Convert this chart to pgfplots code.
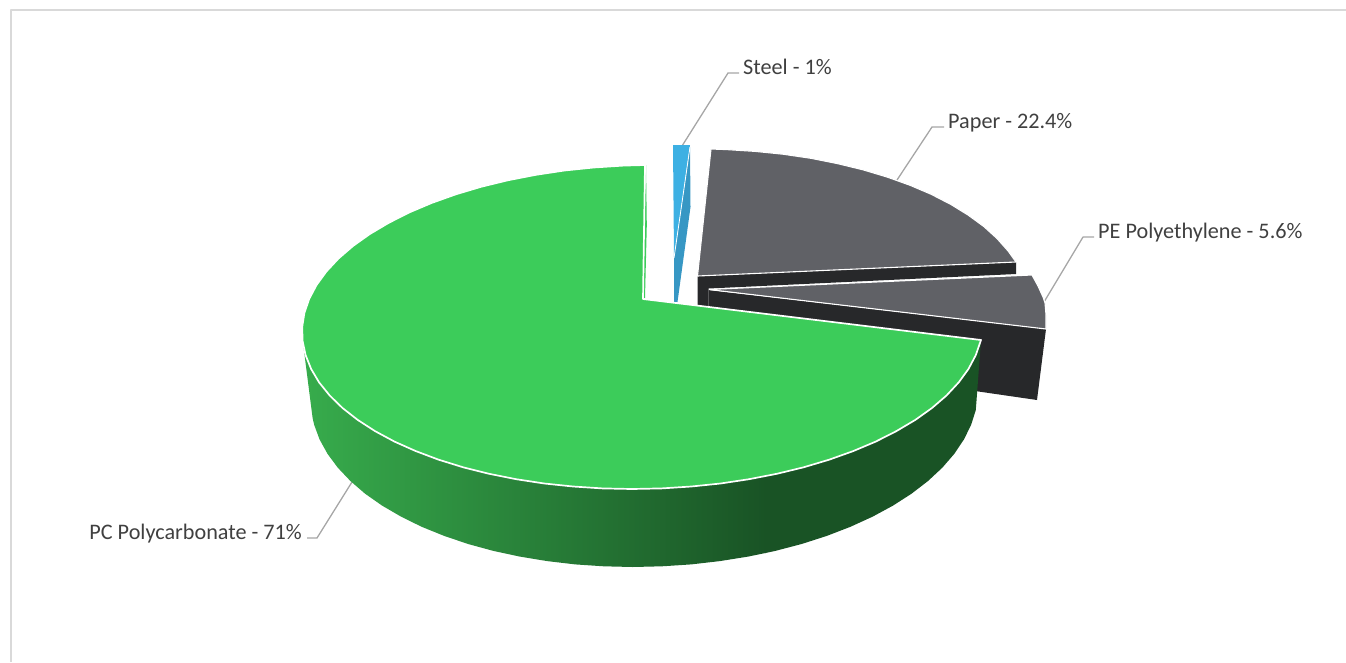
\documentclass[border=0pt]{standalone}
\usepackage{pgfplots}
\pgfplotsset{compat=1.18}
\usepackage{fontspec}
\setmainfont{Carlito}
\definecolor{gface}{HTML}{3CCC5A}
\definecolor{gl}{HTML}{37AC4C}
\definecolor{gd}{HTML}{195325}
\definecolor{gray1}{HTML}{606166}
\definecolor{dark1}{HTML}{27282A}
\definecolor{blue1}{HTML}{3DB0E3}
\definecolor{blue2}{HTML}{3797C4}
\definecolor{lead}{HTML}{A6A6A6}
\definecolor{txt}{HTML}{404040}
\definecolor{frame}{HTML}{D9D9D9}
\begin{document}
\begin{tikzpicture}
\begin{axis}[
  width=1346pt,height=662pt,scale only axis,
  xmin=0,xmax=1346,ymin=0,ymax=662,y dir=reverse,
  hide axis,no markers,
  every axis plot/.append style={line join=round},
]
% frame
\addplot[frame,line width=2pt] coordinates {(10.5,662)(10.5,10)(1346,10)};
% leader lines
\addplot[lead,line width=1.3pt] coordinates {(682,146)(728,73)(739,73)};
\addplot[lead,line width=1.3pt] coordinates {(897,180)(932,127)(944,127)};
\addplot[lead,line width=1.3pt] coordinates {(1044,302)(1083,237)(1094,237)};
\addplot[lead,line width=1.3pt] coordinates {(352,482)(317,538)(307,538)};
% steel
\addplot[fill=blue2,draw=none] coordinates {(690,147)(690.5,207)(677.5,302)(674,302)(674,258)} --cycle;
\addplot[fill=blue1,draw=none] coordinates {(673,145)(690,145)(674,258)} --cycle;
\addplot[white,line width=0.8pt] coordinates {(690,147)(674,258)};
% PE side and face
\addplot[fill=dark1,draw=none] coordinates {(708.5,290)(1046,329)(1037,400)(975,391)(975,345)(708.5,320)} --cycle;
\addplot[fill=gray1,draw=white,line width=1.1pt] coordinates {(708.5,289.5)(1032,275)(1038,286)(1043,297)(1045,303)(1046,315)(1046,329)} --cycle;
% paper side and face
\addplot[fill=dark1,draw=none] coordinates {(697.5,276)(1016,262)(1016,274)(708.5,288.5)(708.5,310)(697.5,310)} --cycle;
\addplot[fill=gray1,draw=white,line width=1.1pt] coordinates {(711,149)(726.8,149.6)(755.3,151.4)(783,154.2)(810.9,158.3)(837,163.5)(863,169.8)(887,177)(910.1,185.3)(931,194.2)(950.8,204.4)(968,215)(983.8,226.5)(997,238.5)(1008.1,251)(1016,262)(697.5,276)} --cycle;
% green side
\addplot[shade,left color=gl,right color=gd,draw=none] coordinates {(303.5,347)(766,347)(766,552.9)(748,556.6)(719.8,561.1)(691.1,564.4)(662,566.3)(632.7,567)(603.9,566.3)(575.3,564.4)(547.2,561.1)(519.9,556.6)(493.4,550.9)(468.1,544)(444.2,535.9)(421.7,526.8)(401,516.6)(382.1,505.6)(365.1,493.7)(350.4,481)(337.8,467.7)(327.5,453.8)(319.6,439.5)(314.2,424.9)(312.6,418)} --cycle;
\addplot[fill=gd,draw=none] coordinates {(765,347)(981,340)(975.8,410)(971.1,424.9)(963.9,439.5)(954.3,453.8)(942.3,467.7)(928,481)(911.5,493.7)(893,505.6)(872.7,516.6)(850.4,526.8)(826.8,535.9)(801.6,544)(775.3,550.9)(765,553.1)} --cycle;
% green inner sliver
\addplot[fill=gface,draw=none] coordinates {(646,165)(646.8,225)(645,298)(642.5,298)} --cycle;
% green face
\addplot[fill=gface,draw=white,line width=1.7pt] coordinates {(645,165)(643,299)(981,340)(975.8,355.1)(968.5,368.9)(958.7,382.4)(946.5,395.5)(932,408)(915.3,419.9)(896.4,431.1)(875.7,441.6)(853.2,451.1)(829.1,459.7)(803.6,467.3)(776.8,473.8)(749,479.2)(720.5,483.5)(691.3,486.5)(661.7,488.4)(632,489)(602.3,488.4)(573.1,486.5)(544.3,483.5)(516.2,479.2)(489.2,473.8)(463.2,467.3)(438.7,459.7)(415.8,451.1)(394.5,441.6)(375,431.1)(357.7,419.9)(342.5,408)(329.7,395.5)(319.1,382.4)(311.1,368.9)(305.6,355.1)(302.6,341.1)(302.2,327)(304.4,312.9)(309.2,298.9)(316.5,285.1)(326.3,271.6)(338.5,258.5)(353,246)(369.7,234.1)(388.6,222.9)(409.3,212.4)(431.8,202.9)(455.9,194.3)(481.4,186.7)(508.2,180.2)(536,174.8)(564.5,170.5)(593.7,167.5)(623.3,165.6)} --cycle;
% labels
\node[anchor=base west,inner sep=0pt,text=txt,font=\fontsize{22.2}{26}\selectfont] at (axis cs:743,74) {Steel - 1\%};
\node[anchor=base west,inner sep=0pt,text=txt,font=\fontsize{22.2}{26}\selectfont] at (axis cs:948,128) {Paper - 22.4\%};
\node[anchor=base west,inner sep=0pt,text=txt,font=\fontsize{22.2}{26}\selectfont] at (axis cs:1098,238) {PE Polyethylene - 5.6\%};
\node[anchor=base east,inner sep=0pt,text=txt,font=\fontsize{22.2}{26}\selectfont] at (axis cs:302,539) {PC Polycarbonate - 71\%};
\path (axis cs:0,0) (axis cs:1346,662);
\end{axis}
\end{tikzpicture}
\end{document}
